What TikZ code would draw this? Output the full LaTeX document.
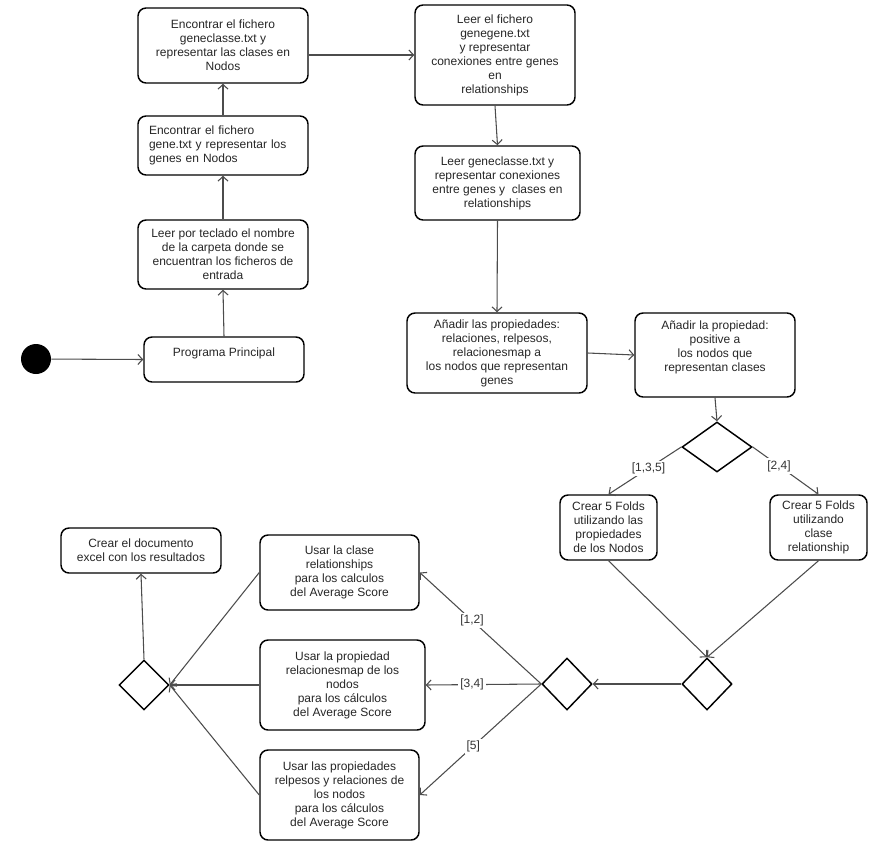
\documentclass[tikz,border=0pt]{standalone}
\usepackage{fontspec}
\setmainfont{Liberation Sans}
\usetikzlibrary{shapes.geometric,arrows.meta}
\newcommand\bx[7][]{\node[box,minimum width={(#5-#3)*0.75pt},minimum height={(#6-#4)*0.75pt},#1] (#2) at ({(#3+#5)/2},{(#4+#6)/2}) {#7};}
\begin{document}
\begin{tikzpicture}[x=0.75pt,y=-0.75pt,
 box/.style={draw, line width=1.1pt, rounded corners=6pt, align=center, inner sep=2pt, font=\fontsize{9}{10.5}\selectfont, text=black!85},
 dia/.style={draw, diamond, line width=1.1pt, inner sep=0pt},
 conn/.style={draw=black!70, line width=0.8pt, -{Straight Barb[length=3.5pt,width=7.5pt]}},
 lbl/.style={fill=white, inner sep=1.5pt, font=\fontsize{9}{10.5}\selectfont, text=black!80}]
\useasboundingbox (0,0) rectangle (893,860);

\bx{b1}{138}{8}{308}{83}{Encontrar el fichero\\geneclasse.txt y\\representar las clases en\\Nodos}
\bx[align=left,text width={148*0.75pt}]{b2}{138}{116}{308}{175}{Encontrar el fichero\\gene.txt y representar los\\genes en Nodos}
\bx{b3}{138}{220}{308}{289}{Leer por teclado el nombre\\de la carpeta donde se\\encuentran los ficheros de\\entrada}
\bx{b4}{144}{337}{304}{382}{Programa Principal\\\mbox{}}
\bx{b5}{415}{5}{575}{105}{Leer el fichero\\genegene.txt\\y representar\\conexiones entre genes\\en\\relationships}
\bx{b6}{415}{146}{580}{220}{Leer geneclasse.txt y\\representar conexiones\\entre genes y\ \ clases en\\relationships}
\bx{b7}{407}{313}{587}{393}{Añadir las propiedades:\\relaciones, relpesos,\\relacionesmap a\\los nodos que representan\\genes}
\bx{b8}{635}{313}{795}{397}{Añadir la propiedad:\\positive a\\los nodos que\\representan clases\\[3pt]\mbox{}}
\bx{b9}{560}{495}{657}{560}{Crear 5 Folds\\utilizando las\\propiedades\\de los Nodos}
\bx{b10}{770}{495}{867}{560}{Crear 5 Folds\\utilizando\\clase\\relationship}
\bx{b11}{61}{528}{221}{573}{Crear el documento\\excel con los resultados}
\bx{b12}{260}{535}{419}{610}{Usar la clase\\relationships\\para los calculos\\del Average Score}
\bx{b13}{260}{640}{425}{730}{Usar la propiedad\\relacionesmap de los\\nodos\\para los cálculos\\del Average Score}
\bx{b14}{260}{750}{419}{840}{Usar las propiedades\\relpesos y relaciones de\\los nodos\\para los cálculos\\del Average Score}

\node[circle, fill=black, minimum size={30*0.75pt}, inner sep=0pt] (st) at (36,359) {};
\node[dia, minimum width={70*0.75pt}, minimum height={50*0.75pt}] (d1) at (717,447) {};
\node[dia, minimum width={50*0.75pt}, minimum height={52*0.75pt}] (d2) at (707,684) {};
\node[dia, minimum width={50*0.75pt}, minimum height={52*0.75pt}] (d3) at (567,684) {};
\node[dia, minimum width={50*0.75pt}, minimum height={50*0.75pt}] (d4) at (144,685) {};

\draw[conn] (st) -- (b4.west);
\draw[conn] (b4.north) -- (b3.south);
\draw[conn] (b3.north) -- (b2.south);
\draw[conn] (b2.north) -- (b1.south);
\draw[conn] (b1.east |- b5.west) -- (b5.west);
\draw[conn] (b5.south) -- (b6.north);
\draw[conn] (b6.south) -- (b7.north);
\draw[conn] (b7.east) -- (b8.west);
\draw[conn] (b8.south) -- (d1.north);
\draw[conn] (d1.west) -- node[lbl,pos=0.45]{[1,3,5]} (b9.north);
\draw[conn] (d1.east) -- node[lbl,pos=0.4]{[2,4]} (b10.north);
\draw[conn] (b9.south) -- (d2.north);
\draw[conn] (b10.south) -- (d2.north);
\draw[conn] (d2.west) -- (d3.east);
\draw[conn] (d3.west) -- node[lbl,pos=0.57]{[1,2]} (b12.east);
\draw[conn] (d3.west) -- node[lbl,pos=0.6]{[3,4]} (b13.east);
\draw[conn] (d3.west) -- node[lbl,pos=0.56]{[5]} (b14.east);
\draw[conn] (b12.west) -- (d4.east);
\draw[conn] (b13.west) -- (d4.east);
\draw[conn] (b14.west) -- (d4.east);
\draw[conn] (d4.north) -- (b11.south);
\end{tikzpicture}
\end{document}
